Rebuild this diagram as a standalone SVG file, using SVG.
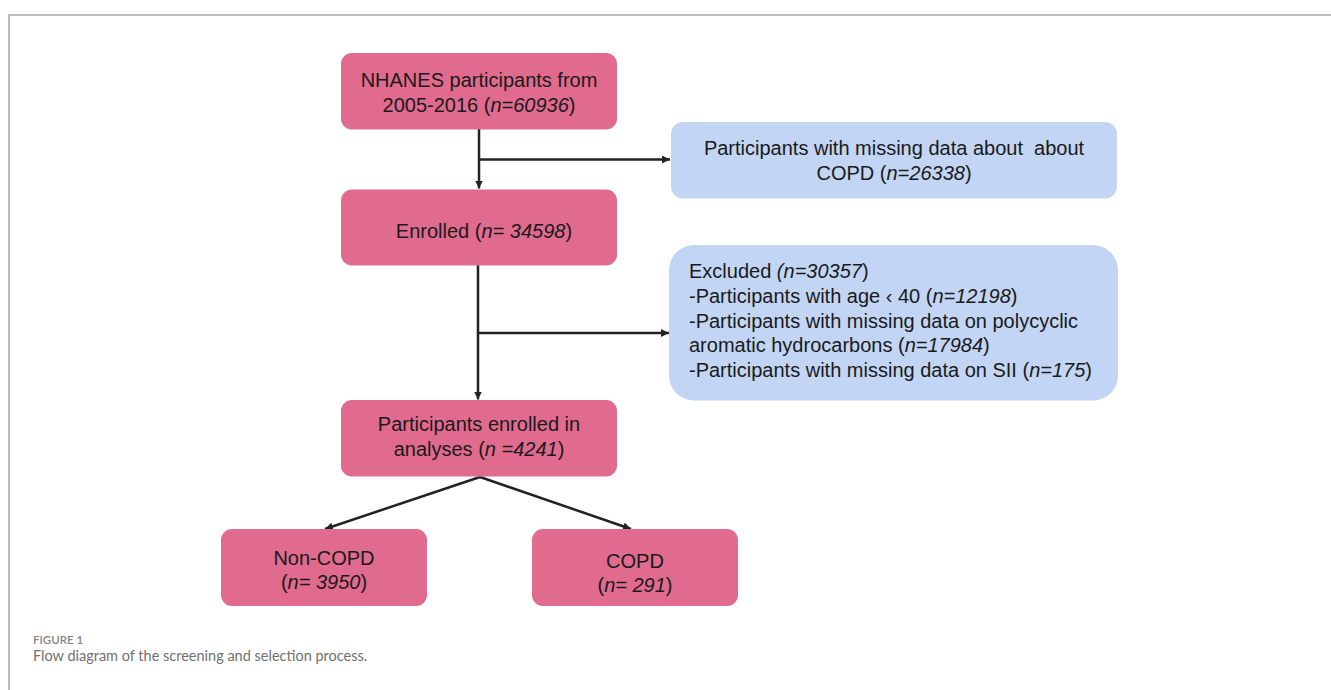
<svg xmlns="http://www.w3.org/2000/svg" width="1331" height="690" viewBox="0 0 1331 690">
<style>
.pink{fill:#e16b8f;}
.blue{fill:#c2d5f4;}
.t{font-family:"Liberation Sans",Arial,sans-serif;font-size:20px;fill:#1a1a1a;}
.c{text-anchor:middle;}
.i{font-style:italic;}
.ln{stroke:#222;stroke-width:2.5;fill:none;}
.cap1{font-family:Lato,"Open Sans",sans-serif;font-size:11.5px;font-weight:600;fill:#858585;}
.cap2{font-family:Lato,"Open Sans",sans-serif;font-size:14.5px;fill:#707070;}
</style>
<defs>
<marker id="ah" viewBox="0 0 10 10" refX="10" refY="5" markerWidth="3.2" markerHeight="3.2" orient="auto" markerUnits="strokeWidth">
<path d="M0,0 L10,5 L0,10 z" fill="#222"/>
</marker>
</defs>
<rect width="1331" height="690" fill="#fff"/>
<path d="M9,690 L9,15 L1331,15" stroke="#bbbbbb" stroke-width="2" fill="none"/>

<g id="connectors">
<line class="ln" x1="479" y1="129" x2="479" y2="188.5" marker-end="url(#ah)"/>
<line class="ln" x1="479" y1="159.5" x2="670" y2="159.5" marker-end="url(#ah)"/>
<line class="ln" x1="478" y1="265" x2="478" y2="399.5" marker-end="url(#ah)"/>
<line class="ln" x1="478" y1="333" x2="669" y2="333" marker-end="url(#ah)"/>
<line class="ln" x1="480" y1="477" x2="325" y2="529" marker-end="url(#ah)"/>
<line class="ln" x1="480" y1="477" x2="631" y2="529" marker-end="url(#ah)"/>
</g>

<g id="n1">
<rect class="pink" x="341" y="53" width="276" height="76.5" rx="11"/>
<text class="t c" x="479" y="86.5">NHANES participants from</text>
<text class="t c" x="479" y="111.5">2005-2016 (<tspan class="i">n=60936</tspan>)</text>
</g>

<g id="n2">
<rect class="blue" x="671" y="122" width="446" height="76.5" rx="12"/>
<text class="t c" x="894" y="155" xml:space="preserve">Participants with missing data about  about</text>
<text class="t c" x="894" y="179.5">COPD (<tspan class="i">n=26338</tspan>)</text>
</g>

<g id="n3">
<rect class="pink" x="341" y="189.5" width="276" height="76" rx="11"/>
<text class="t c" x="484" y="238">Enrolled (<tspan class="i">n= 34598</tspan>)</text>
</g>

<g id="n4">
<rect class="blue" x="669" y="245" width="449" height="155.5" rx="25"/>
<text class="t" x="689" y="278.3">Excluded <tspan class="i">(n=30357</tspan>)</text>
<text class="t" x="689" y="302.9">-Participants with age ‹ 40 (<tspan class="i">n=12198</tspan>)</text>
<text class="t" x="689" y="327.5">-Participants with missing data on polycyclic</text>
<text class="t" x="689" y="352.1">aromatic hydrocarbons (<tspan class="i">n=17984</tspan>)</text>
<text class="t" x="689" y="376.7">-Participants with missing data on SII (<tspan class="i">n=175</tspan>)</text>
</g>

<g id="n5">
<rect class="pink" x="341" y="400" width="276" height="76.5" rx="11"/>
<text class="t c" x="479" y="431">Participants enrolled in</text>
<text class="t c" x="479" y="455.5">analyses (<tspan class="i">n =4241</tspan>)</text>
</g>

<g id="n6">
<rect class="pink" x="221" y="529" width="206" height="77" rx="11"/>
<text class="t c" x="324" y="565">Non-COPD</text>
<text class="t c" x="324" y="589">(<tspan class="i">n= 3950</tspan>)</text>
</g>

<g id="n7">
<rect class="pink" x="532" y="529" width="206" height="77" rx="11"/>
<text class="t c" x="635" y="568">COPD</text>
<text class="t c" x="635" y="592">(<tspan class="i">n= 291</tspan>)</text>
</g>

<g id="caption">
<text class="cap1" x="33" y="644">FIGURE 1</text>
<text class="cap2" x="33" y="661">Flow diagram of the screening and selection process.</text>
</g>
</svg>
